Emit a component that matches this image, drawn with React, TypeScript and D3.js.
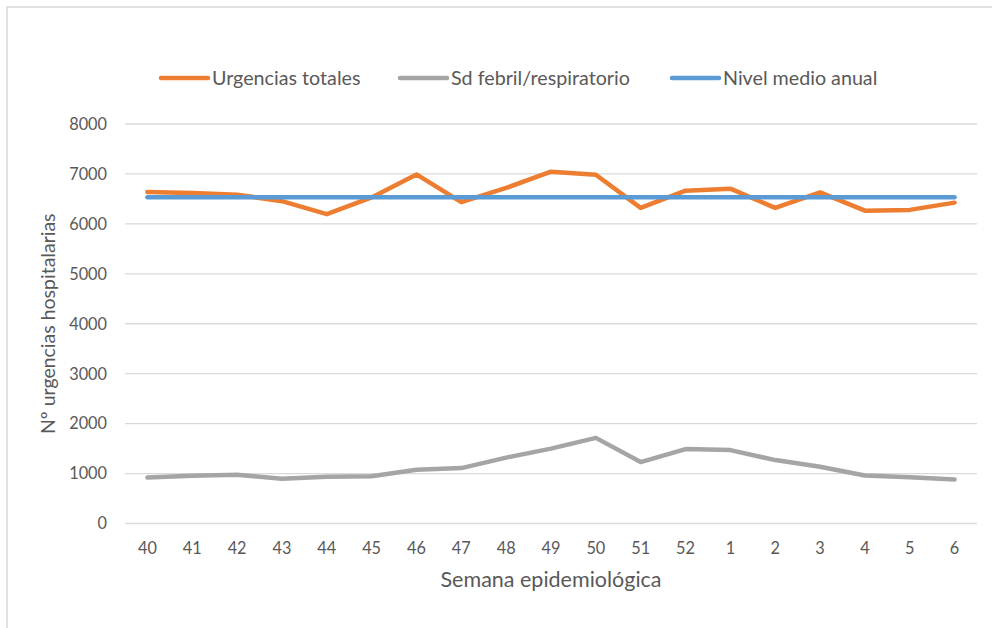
import React from 'react'
import * as d3 from 'd3'

// weeks of the season (epidemiological week)
const weeks = ['40', '41', '42', '43', '44', '45', '46', '47', '48', '49', '50', '51', '52', '1', '2', '3', '4', '5', '6']

const urgenciasTotales = [6640, 6620, 6585, 6455, 6195, 6530, 6990, 6435, 6720, 7045, 6985, 6320, 6665, 6705, 6320, 6630, 6265, 6280, 6425]
const sdFebril = [920, 955, 975, 895, 935, 945, 1075, 1110, 1320, 1500, 1715, 1230, 1490, 1470, 1270, 1135, 960, 925, 880]
const nivelMedio = weeks.map(() => 6535)

const yTicks = [0, 1000, 2000, 3000, 4000, 5000, 6000, 7000, 8000]

const series = [
  { name: 'Urgencias totales', values: urgenciasTotales, color: '#ED7D31' },
  { name: 'Sd febril/respiratorio', values: sdFebril, color: '#A5A5A5' },
  { name: 'Nivel medio anual', values: nivelMedio, color: '#5B9BD5' }
]

const legendX = [160, 399, 671]

const App = () => {
  const width = 992
  const height = 628
  const left = 125
  const right = 977
  const top = 124
  const bottom = 523.5

  const font = 'Lato, sans-serif'
  const textColor = '#595959'

  //D3 mathy bits
  const x = d3.scaleBand().domain(weeks).range([left, right])
  const y = d3.scaleLinear().domain([0, 8000]).range([bottom, top])
  const line = d3
    .line<number>()
    .x((_, i) => (x(weeks[i]) as number) + x.bandwidth() / 2)
    .y((d) => y(d))

  return (
    <svg width={width} height={height} style={{ position: 'absolute', left: 0, top: 0 }}>
      <rect x={0} y={0} width={width} height={height} fill="#fff" />
      <rect x={7} y={7} width={1100} height={700} fill="#fff" stroke="#d9d9d9" strokeWidth={1.5} />

      {yTicks.map((t) => (
        <g key={t}>
          <line x1={left} x2={right} y1={y(t)} y2={y(t)} stroke="#d9d9d9" strokeWidth={1.3} />
          <text
            x={107}
            y={y(t)}
            dy="0.36em"
            textAnchor="end"
            fontFamily={font}
            fontSize={16.3}
            fill={textColor}
          >
            {t}
          </text>
        </g>
      ))}

      {weeks.map((w) => (
        <text
          key={w}
          x={(x(w) as number) + x.bandwidth() / 2}
          y={554}
          textAnchor="middle"
          fontFamily={font}
          fontSize={16.3}
          fill={textColor}
        >
          {w}
        </text>
      ))}

      <text x={551} y={587} textAnchor="middle" fontFamily={font} fontSize={21.5} fill={textColor}>
        Semana epidemiológica
      </text>
      <text
        transform={`translate(55,${(top + bottom) / 2}) rotate(-90)`}
        textAnchor="middle"
        fontFamily={font}
        fontSize={19.5}
        fill={textColor}
      >
        Nº urgencias hospitalarias
      </text>

      {series.map((s) => (
        <path
          key={s.name}
          d={line(s.values) || ''}
          fill="none"
          stroke={s.color}
          strokeWidth={4.5}
          strokeLinejoin="round"
          strokeLinecap="round"
        />
      ))}

      {series.map((s, i) => (
        <g key={s.name} transform={`translate(${legendX[i]},78)`}>
          <line x1={1} x2={48} y1={0} y2={0} stroke={s.color} strokeWidth={4.5} strokeLinecap="round" />
          <text x={52} y={0} dy="0.36em" fontFamily={font} fontSize={19.7} fill={textColor}>
            {s.name}
          </text>
        </g>
      ))}
    </svg>
  )
}

export default App
